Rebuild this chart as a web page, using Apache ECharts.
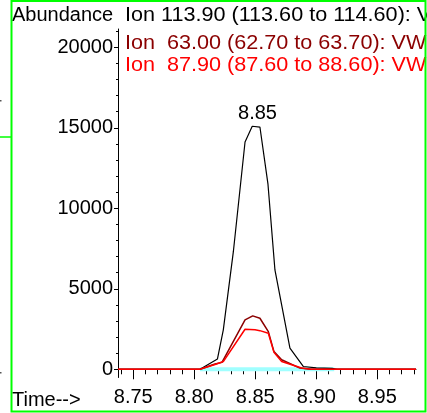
<!DOCTYPE html>
<html>
<head>
<meta charset="utf-8">
<script src="https://cdn.jsdelivr.net/npm/echarts@6/dist/echarts.min.js"></script>
<style>
html,body{margin:0;padding:0;background:#fff;}
#c{width:427px;height:413px;}
</style>
</head>
<body>
<div id="c"></div>
<script>
// ---- data ----
const blackTime  = [8.7375, 8.8047, 8.8190, 8.8238, 8.8320, 8.8416, 8.8475, 8.8538, 8.8604, 8.8661, 8.8784, 8.8893, 8.9000, 8.9130, 8.9170, 8.9817];
const blackAbund = [0,      0,      640,    2450,   7290,   14120,  15100,  15050,  11500,  6170,   1310,   175,    90,     60,     0,      0];

const darkTime  = [8.7375, 8.8047, 8.8170, 8.8227, 8.8416, 8.8479, 8.8538, 8.8607, 8.8653, 8.8716, 8.8866, 8.8950, 8.9817];
const darkAbund = [0,      0,      330,    430,    3070,   3320,   3170,   2340,   1100,   590,    75,     0,      0];

const redTime  = [8.7375, 8.8047, 8.8170, 8.8238, 8.8416, 8.8498, 8.8538, 8.8607, 8.8653, 8.8716, 8.8880, 8.8960, 8.9817];
const redAbund = [0,      0,      300,    480,    2490,   2450,   2400,   2240,   1050,   480,    75,     0,      0];

const baseTime  = [8.8047, 8.9147];
const baseAbund = [0, 0];

const peakLabelTime = 8.8518;
const peakLabelAbund = 15100;
const peakLabelText = '8.85';

const xMajorTicks = [8.75, 8.80, 8.85, 8.90, 8.95];
const xMinorTicks = [8.74, 8.76, 8.77, 8.78, 8.79, 8.81, 8.82, 8.83, 8.84, 8.86, 8.87, 8.88, 8.89, 8.91, 8.92, 8.93, 8.94, 8.96, 8.97, 8.98];
const yMajorTicks = [0, 5000, 10000, 15000, 20000];
const yMinorTicks = [1000, 2000, 3000, 4000, 6000, 7000, 8000, 9000, 11000, 12000, 13000, 14000, 16000, 17000, 18000, 19000, 21000];

const legendLines = [
  {text: 'Ion 113.90 (113.60 to 114.60): V', color: '#000000'},
  {text: 'Ion  63.00 (62.70 to 63.70): VW', color: '#8b0000'},
  {text: 'Ion  87.90 (87.60 to 88.60): VW', color: '#ff0000'}
];
const yAxisTitle = 'Abundance';
const xAxisTitle = 'Time-->';

// ---- chart ----
const FONT = '"Liberation Sans", Arial, sans-serif';
const X_MIN = 8.7375, X_MAX = 8.9817, Y_MIN = -510, Y_MAX = 21140;
const zip = (a, b) => a.map((v, i) => [v, b[i]]);

const chart = echarts.init(document.getElementById('c'), null, {renderer: 'canvas'});

const legendY = [15, 43, 65];

chart.setOption({
  animation: false,
  backgroundColor: '#ffffff',
  grid: {left: 118, right: 11, top: 29, bottom: 35.5, containLabel: false, outerBoundsMode: 'none'},
  xAxis: [
    {
      type: 'value', min: X_MIN, max: X_MAX,
      axisLine: {show: true, lineStyle: {color: '#000', width: 1}},
      axisTick: {show: true, length: 10, customValues: xMajorTicks, lineStyle: {color: '#000', width: 1}},
      axisLabel: {show: true, customValues: xMajorTicks, margin: 10, color: '#000', fontSize: 20, fontFamily: FONT,
                  formatter: v => v.toFixed(2)},
      splitLine: {show: false}
    },
    {
      type: 'value', min: X_MIN, max: X_MAX, position: 'bottom',
      axisLine: {show: false},
      axisTick: {show: true, length: 5, customValues: xMinorTicks, lineStyle: {color: '#000', width: 1}},
      axisLabel: {show: false, customValues: xMinorTicks},
      splitLine: {show: false}
    }
  ],
  yAxis: [
    {
      type: 'value', min: Y_MIN, max: Y_MAX,
      axisLine: {show: true, lineStyle: {color: '#000', width: 1}},
      axisTick: {show: true, length: 4, customValues: yMajorTicks, lineStyle: {color: '#000', width: 1}},
      axisLabel: {show: true, customValues: yMajorTicks, margin: 5, color: '#000', fontSize: 20, fontFamily: FONT,
                  formatter: v => String(Math.round(v))},
      splitLine: {show: false}
    },
    {
      type: 'value', min: Y_MIN, max: Y_MAX, position: 'left',
      axisLine: {show: false},
      axisTick: {show: true, length: 2, customValues: yMinorTicks, lineStyle: {color: '#000', width: 1}},
      axisLabel: {show: false, customValues: yMinorTicks},
      splitLine: {show: false}
    }
  ],
  series: [
    {
      type: 'line', data: zip(baseTime, baseAbund), showSymbol: false, symbol: 'none',
      lineStyle: {color: '#a0ffff', width: 4}, z: 1
    },
    {
      type: 'line', data: zip(blackTime, blackAbund), showSymbol: false, symbol: 'none',
      lineStyle: {color: '#000000', width: 1.2}, z: 2,
      markPoint: {
        symbol: 'circle', symbolSize: 0,
        data: [{coord: [peakLabelTime, peakLabelAbund]}],
        label: {show: true, position: 'top', distance: 3, formatter: peakLabelText,
                color: '#000', fontSize: 20, fontFamily: FONT}
      }
    },
    {
      type: 'line', data: zip(darkTime, darkAbund), showSymbol: false, symbol: 'none',
      lineStyle: {color: '#8b0000', width: 1.5}, z: 3
    },
    {
      type: 'line', data: zip(redTime, redAbund), showSymbol: false, symbol: 'none',
      lineStyle: {color: '#ff0000', width: 1.5}, z: 4
    }
  ],
  graphic: [
    {type: 'rect', shape: {x: 11.5, y: 1, width: 414, height: 410.5}, style: {fill: null, stroke: '#00ff00', lineWidth: 2}, z: 100},
    {type: 'line', shape: {x1: 0, y1: 137, x2: 11, y2: 137}, style: {stroke: '#00ff00', lineWidth: 1.5}},
    {type: 'rect', shape: {x: 0, y: 100, width: 1.5, height: 1.5}, style: {fill: '#555'}},
    {type: 'rect', shape: {x: 0, y: 372, width: 1.5, height: 1.5}, style: {fill: '#555'}},
    {type: 'text', x: 12, y: 15, style: {text: yAxisTitle, fill: '#000', font: '20px ' + FONT, textVerticalAlign: 'middle'}},
    {type: 'text', x: 12, y: 400, style: {text: xAxisTitle, fill: '#000', font: '20px ' + FONT, textVerticalAlign: 'middle'}},
    ...legendLines.map((l, i) => ({
      type: 'text', x: 125, y: legendY[i], scaleX: 1.08,
      style: {text: l.text, fill: l.color, font: '20px ' + FONT, textVerticalAlign: 'middle'}
    }))
  ]
});
</script>
</body>
</html>
